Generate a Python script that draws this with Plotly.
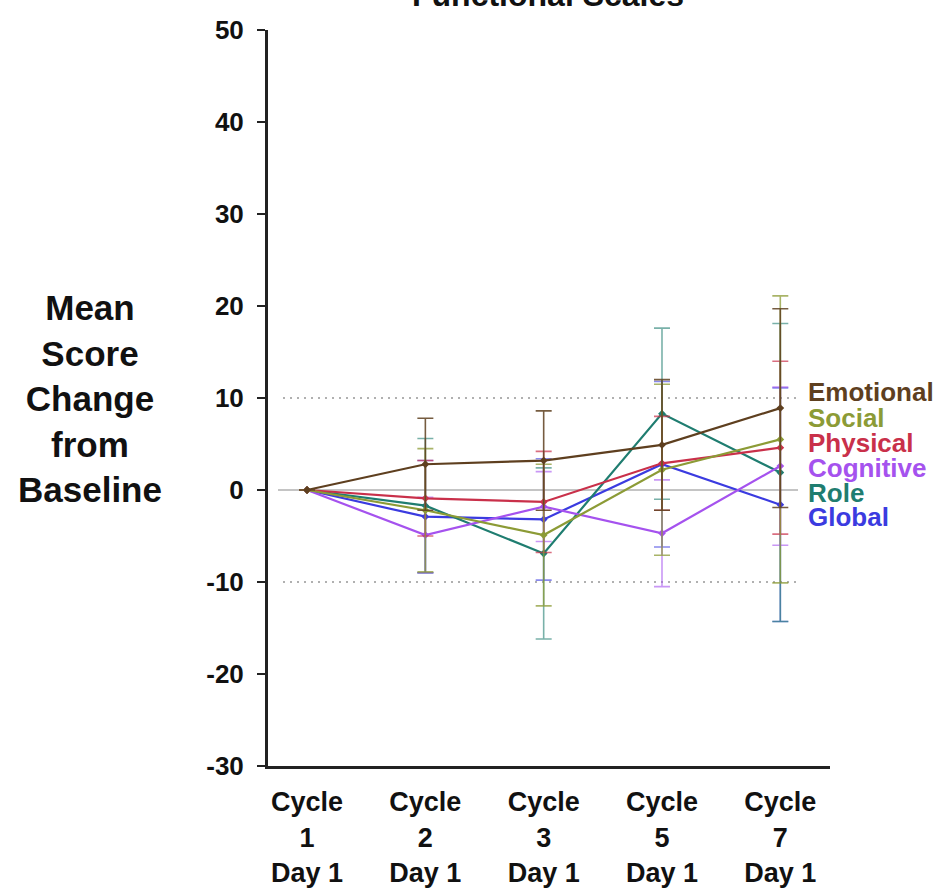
import plotly.graph_objects as go

# Visits on the x axis
visits = ["Cycle<br>1<br>Day 1", "Cycle<br>2<br>Day 1", "Cycle<br>3<br>Day 1",
          "Cycle<br>5<br>Day 1", "Cycle<br>7<br>Day 1"]

# Mean change from baseline per functional scale
emotional = [0.0, 2.8, 3.2, 4.9, 8.9]
social = [0.0, -2.2, -4.9, 2.2, 5.5]
physical = [0.0, -0.9, -1.3, 2.9, 4.6]
cognitive = [0.0, -4.9, -1.8, -4.7, 2.6]
role = [0.0, -1.7, -6.9, 8.3, 1.9]
global_qol = [0.0, -2.9, -3.2, 2.8, -1.6]

# Error bar half-widths
emotional_err = [0.0, 5.0, 5.4, 7.1, 10.8]
social_err = [0.0, 6.7, 7.7, 9.3, 15.6]
physical_err = [0.0, 4.1, 5.5, 5.1, 9.4]
cognitive_err = [0.0, 4.1, 3.8, 5.8, 8.6]
role_err = [0.0, 7.3, 9.3, 9.3, 16.2]
global_err = [0.0, 6.1, 6.6, 9.0, 12.7]

scales = ["Emotional", "Social", "Physical", "Cognitive", "Role", "Global"]
values = [emotional, social, physical, cognitive, role, global_qol]
errors = [emotional_err, social_err, physical_err, cognitive_err, role_err, global_err]
colors = ["#5e3f1f", "#8c9b36", "#c9304a", "#a552ee", "#1f7d70", "#3b3be0"]
err_colors = ["rgba(94,63,31,0.85)", "rgba(140,155,54,0.75)", "rgba(201,48,74,0.7)",
              "rgba(165,82,238,0.6)", "rgba(31,125,112,0.6)", "rgba(59,59,224,0.6)"]

W, H = 940, 895
L, R, T, B = 268, 110, 30, 129
PW, PH = W - L - R, H - T - B


def px_x(px):
    return (px - L) / PW


def px_y(py):
    return (H - B - py) / PH


FONT = "Liberation Sans, Arial, sans-serif"

fig = go.Figure()

xs = list(range(len(visits)))
# draw bottom-up so Emotional sits on top
for name, v, e, c, ec in reversed(list(zip(scales, values, errors, colors, err_colors))):
    fig.add_trace(go.Scatter(
        x=xs, y=v, name=name, mode="lines+markers",
        line=dict(color=c, width=2.2),
        marker=dict(color=c, size=6, symbol="diamond"),
        error_y=dict(type="data", array=e, visible=True, color=ec,
                     thickness=1.6, width=8),
        showlegend=False, cliponaxis=False,
    ))

shapes = [
    dict(type="line", xref="paper", yref="y", x0=px_x(278), x1=px_x(798), y0=0, y1=0,
         line=dict(color="#c4c4c4", width=2), layer="below"),
]
for gy in (10, -10):
    shapes.append(dict(type="line", xref="paper", yref="y", x0=px_x(283), x1=px_x(798),
                       y0=gy, y1=gy, line=dict(color="#b0b0b0", width=2, dash="2px,5px"),
                       layer="below"))

annotations = [
    dict(text="<b>Functional Scales</b>", xref="paper", yref="paper",
         x=px_x(548), y=px_y(-5), xanchor="center", yanchor="middle",
         showarrow=False, font=dict(family=FONT, size=32, color="#111")),
    dict(text="<b>Mean<br>Score<br>Change<br>from<br>Baseline</b>", xref="paper", yref="paper",
         x=px_x(90), y=px_y(398), xanchor="center", yanchor="middle",
         showarrow=False, font=dict(family=FONT, size=35, color="#111")),
]
label_y = [392, 418, 443, 468, 493, 517]
for name, c, ly in zip(scales, colors, label_y):
    annotations.append(dict(text=f"<b>{name}</b>", xref="paper", yref="paper",
                            x=px_x(806), y=px_y(ly), xanchor="left", yanchor="middle",
                            showarrow=False, font=dict(family=FONT, size=26, color=c)))

fig.update_layout(
    width=W, height=H,
    margin=dict(l=L, r=R, t=T, b=B, pad=0),
    plot_bgcolor="white", paper_bgcolor="white",
    shapes=shapes, annotations=annotations,
    xaxis=dict(range=[-0.33, 4.42], tickvals=xs, ticktext=[f"<b>{t}</b>" for t in visits],
               showgrid=False, zeroline=False, showline=True, linecolor="#222", linewidth=3,
               ticks="", ticklabelstandoff=10, automargin=False,
               tickfont=dict(family=FONT, size=27, color="#111"), fixedrange=True),
    yaxis=dict(range=[-30, 50], tickvals=list(range(-30, 51, 10)),
               ticktext=[f"<b>{t}</b>" for t in range(-30, 51, 10)],
               showgrid=False, zeroline=False, showline=True, linecolor="#222", linewidth=3,
               ticks="outside", ticklen=8, tickwidth=2, tickcolor="#222",
               ticklabelstandoff=8, automargin=False,
               tickfont=dict(family=FONT, size=26, color="#111"), fixedrange=True),
)

fig.write_html("out.html")
